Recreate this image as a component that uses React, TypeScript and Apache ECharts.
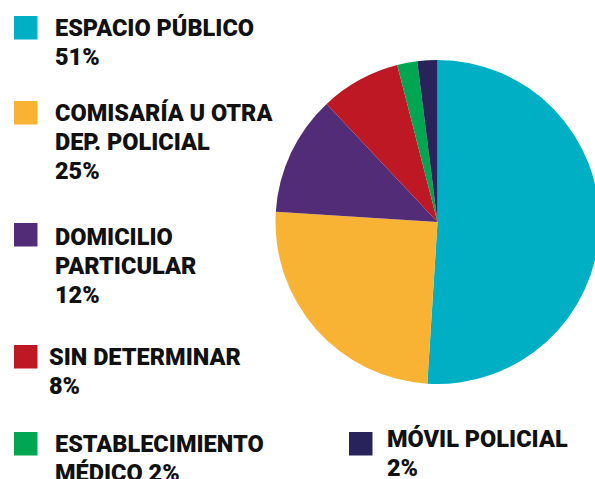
import React, { useEffect, useRef } from "react";
import * as echarts from "echarts";

const categories = [
  "ESPACIO PÚBLICO",
  "COMISARÍA U OTRA DEP. POLICIAL",
  "DOMICILIO PARTICULAR",
  "SIN DETERMINAR",
  "ESTABLECIMIENTO MÉDICO",
  "MÓVIL POLICIAL",
];
const values = [51, 25, 12, 8, 2, 2];
const legendLines = [
  ["ESPACIO PÚBLICO"],
  ["COMISARÍA U OTRA", "DEP. POLICIAL"],
  ["DOMICILIO", "PARTICULAR"],
  ["SIN DETERMINAR"],
  ["ESTABLECIMIENTO", "MÉDICO"],
  ["MÓVIL POLICIAL"],
];
const percentOnNewLine = [true, true, true, true, false, true];
const colors = ["#00AFC4", "#F8B334", "#522C77", "#BD1824", "#00A651", "#28235B"];

// layout of legend entries (square x/y, text x, first line centre y)
const legendLayout = [
  { sx: 14, sy: 16, tx: 55, cy: 27.5 },
  { sx: 14, sy: 101, tx: 55, cy: 113 },
  { sx: 14, sy: 223, tx: 55, cy: 236.7 },
  { sx: 14, sy: 345, tx: 49, cy: 357.3 },
  { sx: 14, sy: 432, tx: 55, cy: 444 },
  { sx: 349, sy: 432, tx: 387, cy: 438.5 },
];

export default function App() {
  const ref = useRef<HTMLDivElement>(null);
  useEffect(() => {
    if (!ref.current) return;
    const chart = echarts.init(ref.current, null, { renderer: "svg" });
    const LH = 29;
    const graphics: any[] = [];
    categories.forEach((_, i) => {
      const L = legendLayout[i];
      const lines = legendLines[i].slice();
      const pct = values[i] + "%";
      if (percentOnNewLine[i]) lines.push(pct);
      else lines[lines.length - 1] = lines[lines.length - 1] + " " + pct;
      graphics.push({
        type: "rect",
        shape: { x: L.sx, y: L.sy, width: 23.5, height: 23.5 },
        style: { fill: colors[i] },
      });
      graphics.push({
        type: "text",
        x: L.tx,
        y: L.cy - LH / 2,
        style: {
          text: lines.join("\n"),
          fontFamily: "Roboto",
          fontWeight: 900,
          fontSize: 23.5,
          lineHeight: LH,
          fill: "#111111",
          verticalAlign: "top",
          align: "left",
        },
      });
    });
    chart.setOption({
      animation: false,
      color: colors,
      series: [
        {
          type: "pie",
          center: [437.5, 222],
          radius: [0, 162],
          startAngle: 90,
          clockwise: true,
          label: { show: false },
          labelLine: { show: false },
          itemStyle: { borderWidth: 0 },
          emphasis: { disabled: true },
          data: categories.map((c, i) => ({ name: c, value: values[i] })),
        },
      ],
      graphic: graphics,
    });
    return () => chart.dispose();
  }, []);
  return (
    <div
      ref={ref}
      style={{ position: "fixed", left: 0, top: 0, width: 595, height: 479, background: "#fff" }}
    />
  );
}
